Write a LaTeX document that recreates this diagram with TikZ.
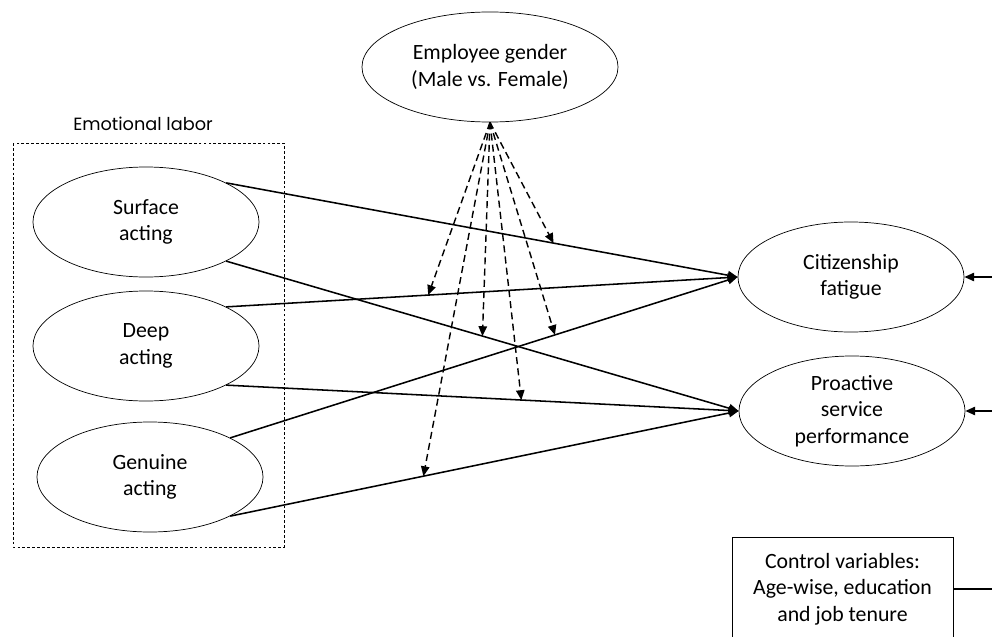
\documentclass[tikz,border=0pt]{standalone}
\usepackage{fontspec}
\setmainfont{Carlito}
\newfontfamily\gothicfont{Poppins}
\usetikzlibrary{shapes.geometric, arrows.meta, positioning}

\begin{document}
\begin{tikzpicture}[x=0.025cm, y=-0.025cm,
    latent/.style={draw, ellipse, line width=0.5pt, minimum width=5.65cm, minimum height=2.75cm, inner sep=0pt, align=center, font=\fontsize{15.5}{18.8}\selectfont},
    effect/.style={line width=1.1pt, -{Triangle[length=7pt,width=6pt]}},
    moderate/.style={line width=1pt, dash pattern=on 5pt off 3pt, -{Triangle[length=7pt,width=6pt]}}]

    \useasboundingbox (0,0) rectangle (992,637);


    \draw[line width=0.5pt, dash pattern=on 2pt off 1.5pt] (13,143) rectangle (284,547);
    \node[font=\gothicfont\fontsize{12.6}{15}\selectfont] (emolabor) at (143,124) {Emotional labor};


    \node[latent] (surf) at (146,222) {Surface\\acting};
    \node[latent] (deep) at (146,346) {Deep\\acting};
    \node[latent] (genu) at (150,477) {Genuine\\acting};
    \node[latent, minimum width=6.4cm] (gender) at (490,67) {Employee gender\\(Male vs. Female)};
    \node[latent] (cit) at (851,277) {Citizenship\\fatigue};
    \node[latent] (pro) at (852,411) {Proactive\\service\\performance};
    \node[draw, line width=0.5pt, minimum width=5.525cm, minimum height=2.6cm, align=center, font=\fontsize{15.5}{18.8}\selectfont] (ctrl) at (842.5,589) {Control variables:\\Age-wise, education\\and job tenure};


    \draw[effect] (surf.26) -- coordinate[pos=0.64] (m1) (cit.west);
    \draw[effect] (deep.26) -- coordinate[pos=0.395] (m2) (cit.west);
    \draw[effect] (surf.-26) -- coordinate[pos=0.50] (m3) (pro.west);
    \draw[effect] (genu.26) -- coordinate[pos=0.64] (m4) (cit.west);
    \draw[effect] (deep.-26) -- coordinate[pos=0.576] (m5) (pro.west);
    \draw[effect] (genu.-26) -- coordinate[pos=0.38] (m6) (pro.west);


    \foreach \m in {m1,m2,m3,m4,m5,m6}
        \draw[moderate] (gender.south) -- (\m);


    \coordinate (citsrc) at ([xshift=1.2cm]cit.east);
    \coordinate (prosrc) at ([xshift=1.2cm]pro.east);
    \coordinate (ctrlend) at ([xshift=1.5cm]ctrl.east);
    \draw[effect] (citsrc) -- (cit.east);
    \draw[effect] (prosrc) -- (pro.east);
    \draw[line width=1.1pt] (ctrl.east) -- (ctrlend);
\end{tikzpicture}
\end{document}
